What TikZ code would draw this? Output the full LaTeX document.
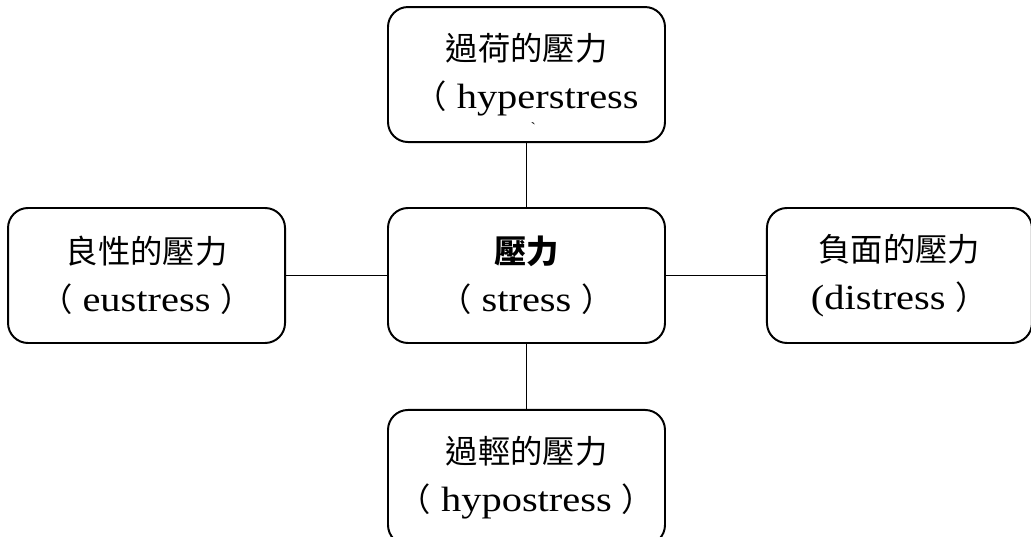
\documentclass[tikz,border=0pt]{standalone}
\usepackage{fontspec}
\setmainfont{Liberation Serif}[FakeStretch=1.15]
\newfontfamily\cjk{Noto Sans CJK TC}[Scale=0.92]
\usetikzlibrary{positioning}

\begin{document}
\begin{tikzpicture}[
			stressbox/.style={rectangle, rounded corners=0.5cm, draw=black, line width=1.4pt,
				minimum width=6.925cm, minimum height=3.375cm, inner sep=0, align=center,
				font=\fontsize{25}{34}\selectfont},
			link/.style={line width=1.4pt}]

			\useasboundingbox (0,0) rectangle (25.775,13.425);

			\node[stressbox] (stress) at (13.1625,6.5375) {{\cjk\bfseries 壓力}\\{\cjk （} stress {\cjk ）}};

			\node[stressbox, above=1.6cm of stress] (hyper) {{\cjk 過荷的壓力}\\{\cjk （} hyperstress};
			\node[inner sep=0, font=\fontsize{10}{10}\selectfont] (mark) at (13.325,10.225) {\textasciigrave};

			\node[stressbox, left=2.525cm of stress] (eu) {{\cjk 良性的壓力}\\{\cjk （} eustress {\cjk ）}};
			\node[stressbox, minimum width=6.625cm, right=2.5cm of stress] (dis) {{\cjk 負面的壓力}\\(distress {\cjk ）}};
			\node[stressbox, below=1.625cm of stress] (hypo) {{\cjk 過輕的壓力}\\{\cjk （} hypostress {\cjk ）}};

			\draw[link] (hyper) -- (stress);
			\draw[link] (eu) -- (stress);
			\draw[link] (stress) -- (dis);
			\draw[link] (stress) -- (hypo);
		\end{tikzpicture}
\end{document}
